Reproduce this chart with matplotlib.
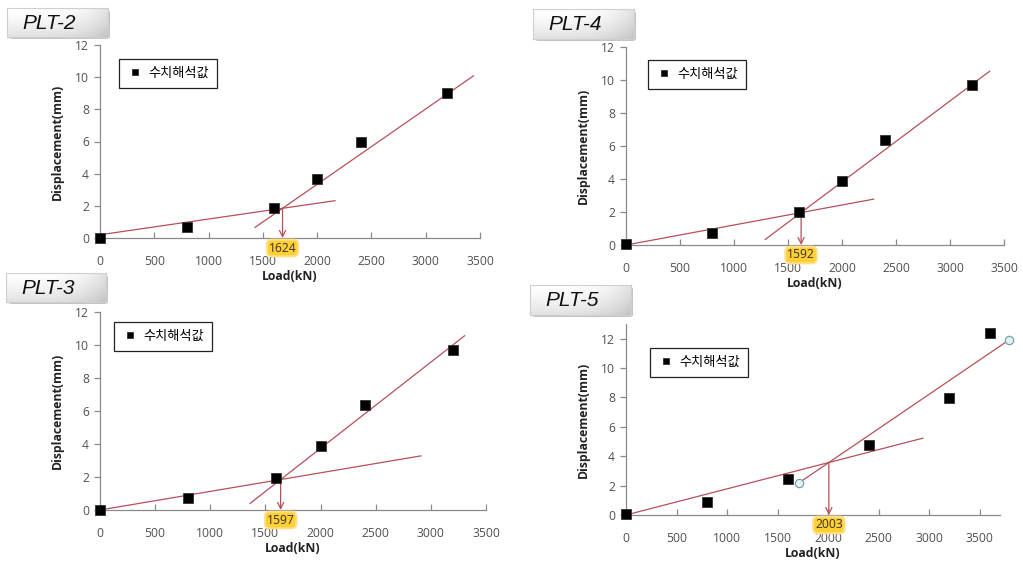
import numpy as np
import matplotlib
matplotlib.use('Agg')
import matplotlib.pyplot as plt
from matplotlib.patches import FancyBboxPatch
from matplotlib.transforms import blended_transform_factory

plt.rcParams['font.family'] = ['Noto Sans CJK KR', 'DejaVu Sans']

W, H = 1023, 564

# ── data ────────────────────────────────────────────────────────────────
titles = ["PLT-2", "PLT-4", "PLT-3", "PLT-5"]
yield_labels = ["1624", "1592", "1597", "2003"]

load_plt2 = [0, 800, 1600, 2000, 2400, 3200]
disp_plt2 = [0.0, 0.7, 1.85, 3.65, 6.0, 9.0]
load_plt4 = [0, 800, 1600, 2000, 2400, 3200]
disp_plt4 = [0.05, 0.75, 2.0, 3.85, 6.35, 9.7]
load_plt3 = [0, 800, 1600, 2000, 2400, 3200]
disp_plt3 = [0.0, 0.7, 1.95, 3.85, 6.35, 9.7]
load_plt5 = [0, 800, 1600, 2400, 3200, 3600]
disp_plt5 = [0.05, 0.9, 2.45, 4.75, 7.95, 12.4]

# open-circle points on PLT-5 (end points of the second line)
circ_load_plt5 = [1709, 3793]
circ_disp_plt5 = [2.18, 11.93]

# fitted lines: [x_start, x_end], [y_start, y_end]
line1_x = [[0, 2164], [0, 2293], [0, 2910], [0, 2937]]
line1_y = [[0.2, 2.32], [0.0, 2.78], [0.0, 3.28], [0.0, 5.23]]
line2_x = [[1428, 3439], [1290, 3367], [1361, 3306], [1709, 3793]]
line2_y = [[0.66, 10.08], [0.34, 10.53], [0.40, 10.56], [2.18, 11.93]]

loads = [load_plt2, load_plt4, load_plt3, load_plt5]
disps = [disp_plt2, disp_plt4, disp_plt3, disp_plt5]
xmax = [3500, 3500, 3500, 3700]
ymax = [12, 12, 12, 13]

# ── layout in pixels: (left, top, right, bottom) of the plotting area ──
axes_px = [(100, 45, 480, 238), (626, 47, 1004, 245),
           (100, 312, 486, 510), (626, 324, 1000, 515)]
title_px = [(7, 8, 108, 37), (533, 9, 634, 39),
            (6, 273, 106, 302), (530, 285, 631, 315)]
legend_px = [(119, 59), (648, 60), (114, 322), (650, 348)]

LINE_C = "#b5505a"
SPINE_C = "#8a8a8a"
TICK_C = "#505050"
NUM_FONT = ["Open Sans", "DejaVu Sans"]

fig = plt.figure(figsize=(W / 100, H / 100), dpi=100)
fig.patch.set_facecolor("white")


def px_rect(l, t, r, b):
    return [l / W, 1 - b / H, (r - l) / W, (b - t) / H]


def intersect(x1, y1, x2, y2):
    m1 = (y1[1] - y1[0]) / (x1[1] - x1[0])
    m2 = (y2[1] - y2[0]) / (x2[1] - x2[0])
    xi = (y2[0] - m2 * x2[0] - y1[0] + m1 * x1[0]) / (m1 - m2)
    return xi, y1[0] + m1 * (xi - x1[0])


# gradient for the title boxes
gx, gy = np.meshgrid(np.linspace(0, 1, 200), np.linspace(0, 1, 60))
grad = 1.0 - 0.12 * gy ** 1.5 - 0.12 * gx ** 4
grad_img = np.dstack([grad, grad, grad])

for i in range(4):
    l, t, r, b = axes_px[i]
    ax = fig.add_axes(px_rect(l, t, r, b))
    ax.set_xlim(0, xmax[i])
    ax.set_ylim(0, ymax[i])
    ax.set_xticks(np.arange(0, 3501, 500))
    ax.set_yticks(np.arange(0, 13, 2))
    for s in ["top", "right"]:
        ax.spines[s].set_visible(False)
    for s in ["left", "bottom"]:
        ax.spines[s].set_color(SPINE_C)
        ax.spines[s].set_linewidth(0.9)
    ax.tick_params(axis="x", direction="in", length=4, width=0.9, color=SPINE_C,
                   labelsize=8.7, labelcolor=TICK_C, pad=12)
    ax.tick_params(axis="y", direction="out", length=4, width=0.9, color=SPINE_C,
                   labelsize=8.7, labelcolor=TICK_C, pad=4)
    for lab in ax.get_xticklabels() + ax.get_yticklabels():
        lab.set_family(NUM_FONT)
    ax.set_xlabel("Load(kN)", fontsize=8.8, fontweight="bold", labelpad=2,
                  color="#222", family=NUM_FONT)
    ax.set_ylabel("Displacement(mm)", fontsize=8.8, fontweight="bold", labelpad=8,
                  color="#222", family=NUM_FONT)

    # fitted lines
    ax.plot(line1_x[i], line1_y[i], color=LINE_C, lw=0.9, zorder=2, clip_on=False)
    ax.plot(line2_x[i], line2_y[i], color=LINE_C, lw=0.9, zorder=2, clip_on=False)

    # analysis points
    ax.plot(loads[i], disps[i], linestyle="none", marker="s", markersize=6.5,
            markerfacecolor="black", markeredgecolor="#333", markeredgewidth=0.6,
            label="수치해석값", zorder=4, clip_on=False)
    if i == 3:
        ax.plot(circ_load_plt5, circ_disp_plt5, linestyle="none", marker="o",
                markersize=6, markerfacecolor="#e4f2f5", markeredgecolor="#7aa0ad",
                markeredgewidth=0.9, zorder=5, clip_on=False)

    # yield arrow
    xi, yi = intersect(line1_x[i], line1_y[i], line2_x[i], line2_y[i])
    ax.annotate("", xy=(xi, 0), xytext=(xi, yi),
                arrowprops=dict(arrowstyle="->", color=LINE_C, lw=0.9,
                                shrinkA=0, shrinkB=0, mutation_scale=11), zorder=3)
    trans = blended_transform_factory(ax.transData, ax.transAxes)
    ax.text(xi, -10 / (b - t), yield_labels[i], transform=trans, ha="center", va="center",
            fontsize=8.7, color="#333", family=NUM_FONT,
            bbox=dict(boxstyle="round,pad=0.15,rounding_size=0.4", facecolor="#ffcf33",
                      edgecolor="#ffe08a", linewidth=1.5))

    # legend
    lx, ly = legend_px[i]
    leg = ax.legend(loc="upper left",
                    bbox_to_anchor=((lx - l) / (r - l), 1 - (ly - t) / (b - t)),
                    borderaxespad=0, fancybox=False, framealpha=1, fontsize=9.5,
                    handlelength=1.3, handletextpad=0.3, borderpad=0.6,
                    markerscale=0.75)
    leg.get_frame().set_edgecolor("#222")
    leg.get_frame().set_linewidth(0.9)

    # title box with soft shadow
    tl, tt, tr, tb = title_px[i]
    shadow = FancyBboxPatch(((tl + 2) / W, 1 - (tb + 2) / H), (tr - tl) / W, (tb - tt) / H,
                            boxstyle="round,pad=0,rounding_size=0.004",
                            transform=fig.transFigure, facecolor="#c4c4c4",
                            edgecolor="none", zorder=-1)
    fig.patches.append(shadow)
    tax = fig.add_axes(px_rect(tl, tt, tr, tb))
    tax.imshow(grad_img, extent=[0, 1, 0, 1], aspect="auto", interpolation="bilinear")
    tax.set_xlim(0, 1)
    tax.set_ylim(0, 1)
    tax.set_xticks([])
    tax.set_yticks([])
    for s in tax.spines.values():
        s.set_color("#cfcfcf")
        s.set_linewidth(0.8)
    tax.text(0.15, 0.48, titles[i], ha="left", va="center", fontsize=15,
             style="italic", family=["Liberation Sans", "DejaVu Sans"], color="#111")

fig.savefig("out.png", dpi=100, facecolor="white")
